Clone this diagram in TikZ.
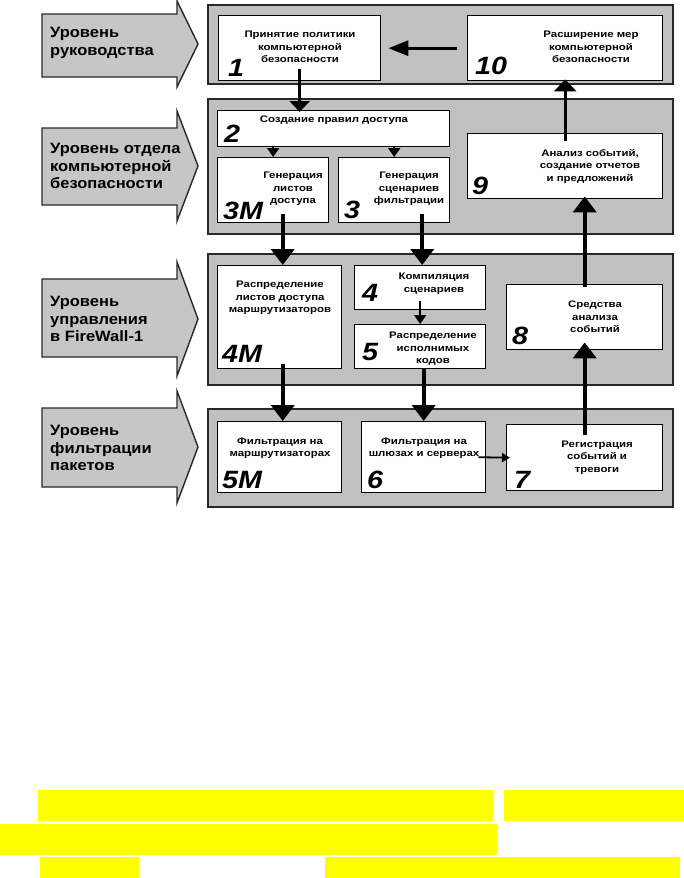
\documentclass[tikz,border=0pt]{standalone}
\usepackage{fontspec}
\setmainfont{Liberation Sans}
\newfontfamily\boxfont[FakeStretch=1.2]{Liberation Sans}
\newfontfamily\numfont[FakeStretch=1.15]{Liberation Sans}
\newfontfamily\lblfont[FakeStretch=1.1]{Liberation Sans}
\usetikzlibrary{arrows.meta,calc}
\definecolor{panelgray}{RGB}{192,192,192}
\definecolor{arrowgray}{RGB}{198,198,198}
\definecolor{edge}{RGB}{40,40,40}
\definecolor{hl}{RGB}{255,255,0}
\begin{document}
\begin{tikzpicture}[x=1pt,y=-1pt,
 panel/.style={draw=edge, fill=panelgray, line width=1.6pt, anchor=north west, inner sep=0pt},
 wbox/.style={draw=black, fill=white, line width=1.4pt, anchor=north west, inner sep=0pt},
 boxtext/.style={align=center, inner sep=0pt, font=\boxfont\bfseries\fontsize{9.5}{12.5}\selectfont},
 numtext/.style={anchor=base west, inner sep=0pt, font=\numfont\bfseries\itshape\fontsize{25}{25}\selectfont},
 lbltext/.style={align=left, anchor=west, inner sep=0pt, font=\lblfont\bfseries\fontsize{15}{17.5}\selectfont},
 levelarrow/.style={draw=edge, fill=arrowgray, line width=1.4pt, line join=miter},
 bigarrow/.style={line width=4pt, -{Triangle[width=23pt,length=16pt]}},
 harrow/.style={line width=3pt, -{Triangle[width=15pt,length=20pt]}},
 vmidarrow/.style={line width=2.5pt, -{Triangle[width=20pt,length=11pt]}},
 uparrow/.style={line width=3pt, -{Triangle[width=22pt,length=12pt]}},
 smallarrow/.style={line width=1.8pt, -{Triangle[width=12pt,length=9pt]}},
 tinyarrow/.style={line width=1.8pt, -{Triangle[width=9pt,length=8pt]}},
 hlbar/.style={fill=hl, draw=none}
]
\useasboundingbox (0,0) rectangle (684,878);
\fill[white] (0,0) rectangle (684,878);

% level arrows
\draw[levelarrow] (42,14) -- (177,14) -- (177,1) -- (198,44) -- (177,87) -- (177,77) -- (42,77) -- cycle;
\draw[levelarrow] (42,128) -- (177,128) -- (177,111) -- (198,166) -- (177,221) -- (177,205) -- (42,205) -- cycle;
\draw[levelarrow] (42,279) -- (177,279) -- (177,262) -- (198,319) -- (177,376) -- (177,357) -- (42,357) -- cycle;
\draw[levelarrow] (42,408) -- (177,408) -- (177,391) -- (198,447) -- (177,503) -- (177,487) -- (42,487) -- cycle;
\node[lbltext] (l1) at (50,43) {Уровень\\руководства};
\node[lbltext] (l2) at (50,166) {Уровень отдела\\компьютерной\\безопасности};
\node[lbltext] (l3) at (50,319) {Уровень\\управления\\в FireWall-1};
\node[lbltext] (l4) at (50,448) {Уровень\\фильтрации\\пакетов};

% panels
\node[panel, minimum width=465pt, minimum height=79pt] (p1) at (207,4) {};
\node[panel, minimum width=465pt, minimum height=135pt] (p2) at (207,98) {};
\node[panel, minimum width=465pt, minimum height=131pt] (p3) at (207,253) {};
\node[panel, minimum width=465pt, minimum height=98pt] (p4) at (207,408) {};

% boxes
\node[wbox, minimum width=162pt, minimum height=65pt] (b1) at (218,15) {};
\node[wbox, minimum width=195pt, minimum height=65pt] (b10) at (467,15) {};
\node[wbox, minimum width=232pt, minimum height=36pt] (b2) at (217,110) {};
\node[wbox, minimum width=111pt, minimum height=65pt] (b3m) at (217,157) {};
\node[wbox, minimum width=111pt, minimum height=65pt] (b3) at (338,157) {};
\node[wbox, minimum width=195pt, minimum height=65pt] (b9) at (467,133) {};
\node[wbox, minimum width=124pt, minimum height=103pt] (b4m) at (217,265) {};
\node[wbox, minimum width=131pt, minimum height=44pt] (b4) at (354,265) {};
\node[wbox, minimum width=131pt, minimum height=44pt] (b5) at (354,324) {};
\node[wbox, minimum width=156pt, minimum height=65pt] (b8) at (506,284) {};
\node[wbox, minimum width=124pt, minimum height=71pt] (b5m) at (217,421) {};
\node[wbox, minimum width=124pt, minimum height=71pt] (b6) at (361,421) {};
\node[wbox, minimum width=156pt, minimum height=66pt] (b7) at (506,424) {};

% box texts
\node[boxtext] (t1) at (300,47) {Принятие политики\\компьютерной\\безопасности};
\node[boxtext] (t10) at (591,47) {Расширение мер\\компьютерной\\безопасности};
\node[boxtext] (t2) at (334,120) {Создание правил доступа};
\node[boxtext] (t3m) at (293,189) {Генерация\\листов\\доступа};
\node[boxtext] (t3) at (409,189) {Генерация\\сценариев\\фильтрации};
\node[boxtext] (t9) at (590,166) {Анализ событий,\\создание отчетов\\и предложений};
\node[boxtext] (t4m) at (280,298) {Распределение\\листов доступа\\маршрутизаторов};
\node[boxtext] (t4) at (434,283.5) {Компиляция\\сценариев};
\node[boxtext] (t5) at (433,349) {Распределение\\исполнимых\\кодов};
\node[boxtext] (t8) at (595,317) {Средства\\анализа\\событий};
\node[boxtext] (t5m) at (280,448) {Фильтрация на\\маршрутизаторах};
\node[boxtext] (t6) at (424,448) {Фильтрация на\\шлюзах и серверах};
\node[boxtext] (t7) at (597,457.5) {Регистрация\\событий и\\тревоги};

% numbers
\node[numtext] (n1) at (228,76) {1};
\node[numtext] (n10) at (475,74) {10};
\node[numtext] (n2) at (224,142) {2};
\node[numtext] (n3m) at (223,219) {3M};
\node[numtext] (n3) at (344,218) {3};
\node[numtext] (n9) at (472,194) {9};
\node[numtext] (n4m) at (222,362) {4M};
\node[numtext] (n4) at (362,301) {4};
\node[numtext] (n5) at (362,360) {5};
\node[numtext] (n8) at (512,344) {8};
\node[numtext] (n5m) at (222,488) {5M};
\node[numtext] (n6) at (367,488) {6};
\node[numtext] (n7) at (514,488) {7};

% connectors
\draw[harrow] ($(b10.west)+(-10,0)$) -- ($(b1.east)+(7,0)$);
\draw[vmidarrow] ($(b1.south)+(0,-12)$) -- ($(b1.south |- b2.north)+(0,2)$);
\draw[smallarrow] (b3m.north |- b2.south) -- (b3m.north);
\draw[smallarrow] (b3.north |- b2.south) -- (b3.north);
\draw[bigarrow] ($(b3m.south)+(9.5,-9)$) -- ($(b3m.south |- b4m.north)+(9.5,0)$);
\draw[bigarrow] ($(b3.south -| b4.north)+(2,-9)$) -- ($(b4.north)+(2,0)$);
\draw[smallarrow] ($(b4.south)+(0,-9)$) -- (b5.north);
\draw[bigarrow] ($(b4m.south)+(3,-5)$) -- ($(b4m.south |- b5m.north)+(3,0)$);
\draw[bigarrow] (b6.north |- b5.south) -- (b6.north);
\draw[tinyarrow] ($(b6.east)+(-8,0)$) -- ($(b7.west)+(4,0)$);
\draw[bigarrow] ($(b7.north)+(0,11)$) -- ($(b8.south)+(0,-8)$);
\draw[bigarrow] ($(b8.north)+(0,3)$) -- ($(b8.north |- b9.south)+(0,-3)$);
\draw[uparrow] ($(b9.north)+(0,8)$) -- ($(b10.south)+(0,-2)$);

% highlight bars
\fill[hlbar] (38,790) rectangle (493,821);
\fill[hlbar] (504,790) rectangle (684,821);
\fill[hlbar] (0,824) rectangle (497,855);
\fill[hlbar] (40,857) rectangle (139,878);
\fill[hlbar] (325,857) rectangle (680,878);
\end{tikzpicture}
\end{document}
